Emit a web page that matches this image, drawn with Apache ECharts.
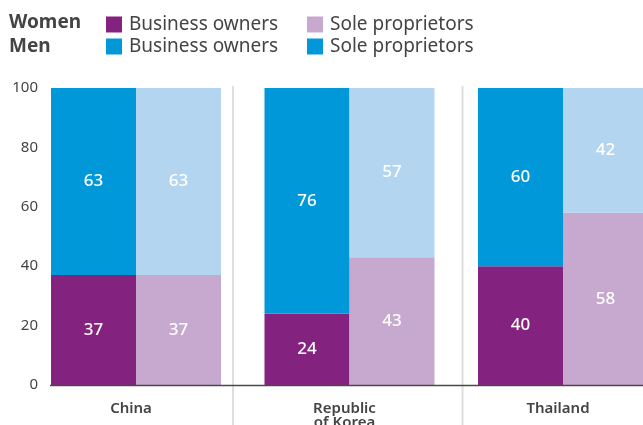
<!DOCTYPE html>
<html>
<head>
<meta charset="utf-8">
<script src="https://cdn.jsdelivr.net/npm/echarts@6/dist/echarts.min.js"></script>
<style>
  html, body { margin: 0; padding: 0; background: #fff; }
  #chart { width: 643px; height: 425px; }
</style>
</head>
<body>
<div id="chart"></div>
<script>
// Share (%) of business owners and sole proprietors, by sex
const countries = ['China', 'Republic\nof Korea', 'Thailand'];
const womenBusinessOwners = [37, 24, 40];
const menBusinessOwners = [63, 76, 60];
const womenSoleProprietors = [37, 43, 58];
const menSoleProprietors = [63, 57, 42];
const yTicks = [0, 20, 40, 60, 80, 100];

const FONT = 'Noto Sans';
const TEXT = '#444';
const C_WBO = '#84237f';
const C_WSP = '#c7a8cf';
const C_MBO = '#0098d9';
const C_MSP = '#b3d5f0';

const chart = echarts.init(document.getElementById('chart'));

const barLabel = {
  show: true,
  position: 'inside',
  color: '#fff',
  fontFamily: FONT,
  fontSize: 17,
  fontWeight: 500
};

function bar(name, stack, data, color) {
  return {
    name: name,
    type: 'bar',
    stack: stack,
    data: data,
    barWidth: 85,
    barGap: '0%',
    xAxisIndex: 0,
    yAxisIndex: 0,
    itemStyle: { color: color },
    label: barLabel,
    emphasis: { disabled: true }
  };
}

// one legend block per entry so the two columns line up
function legendItem(left, top, entry) {
  return {
    left: left,
    top: top,
    padding: 0,
    icon: 'rect',
    itemWidth: 16,
    itemHeight: 16,
    selectedMode: false,
    data: [entry],
    formatter: n => n.split(' · ')[1],
    textStyle: {
      fontFamily: FONT,
      fontSize: 19,
      color: TEXT,
      padding: [0, 0, 0, 2]
    }
  };
}

chart.setOption({
  animation: false,
  textStyle: { fontFamily: FONT },
  title: {
    text: 'Women\nMen',
    left: 9,
    top: 11,
    padding: 0,
    textStyle: {
      fontFamily: FONT,
      fontSize: 19,
      fontWeight: 'bold',
      color: TEXT,
      lineHeight: 24
    }
  },
  legend: [
    legendItem(106, 15, 'Women · Business owners'),
    legendItem(307, 15, 'Women · Sole proprietors'),
    legendItem(106, 37, 'Men · Business owners'),
    legendItem(307, 37, { name: 'Men · Sole proprietors', itemStyle: { color: C_MBO } })
  ],
  grid: [
    { left: 29.25, width: 640.5, top: 88, bottom: 40, outerBoundsMode: 'none', containLabel: false },
    { left: 41, width: 600, top: 88, bottom: 40, outerBoundsMode: 'none', containLabel: false }
  ],
  xAxis: [
    {
      type: 'category',
      gridIndex: 0,
      data: countries,
      axisLine: { show: false },
      axisTick: { show: false },
      axisLabel: {
        margin: 17,
        fontFamily: FONT,
        fontSize: 15,
        fontWeight: 600,
        color: TEXT,
        lineHeight: 14,
        padding: [0, 10, 0, 0]
      }
    },
    {
      type: 'value',
      gridIndex: 1,
      show: false
    }
  ],
  yAxis: [
    {
      type: 'value',
      gridIndex: 0,
      min: 0,
      max: 100,
      interval: 20,
      show: false
    },
    {
      type: 'value',
      gridIndex: 1,
      min: yTicks[0],
      max: yTicks[yTicks.length - 1],
      interval: yTicks[1] - yTicks[0],
      axisLine: { show: false },
      axisTick: { show: false },
      splitLine: { show: false },
      axisLabel: {
        margin: 3,
        fontFamily: FONT,
        fontSize: 15,
        color: TEXT
      }
    }
  ],
  graphic: [
    // group dividers
    { type: 'line', z: 0, shape: { x1: 233, y1: 86, x2: 233, y2: 425 }, style: { stroke: '#dedede', lineWidth: 2 } },
    { type: 'line', z: 0, shape: { x1: 462.5, y1: 86, x2: 462.5, y2: 425 }, style: { stroke: '#dedede', lineWidth: 2 } },
    // baseline
    { type: 'line', z: 100, shape: { x1: 50, y1: 385.5, x2: 643, y2: 385.5 }, style: { stroke: '#4a4a4a', lineWidth: 1.5 } }
  ],
  series: [
    bar('Women · Business owners', 'bo', womenBusinessOwners, C_WBO),
    bar('Women · Sole proprietors', 'sp', womenSoleProprietors, C_WSP),
    bar('Men · Business owners', 'bo', menBusinessOwners, C_MBO),
    bar('Men · Sole proprietors', 'sp', menSoleProprietors, C_MSP)
  ]
});
</script>
</body>
</html>
